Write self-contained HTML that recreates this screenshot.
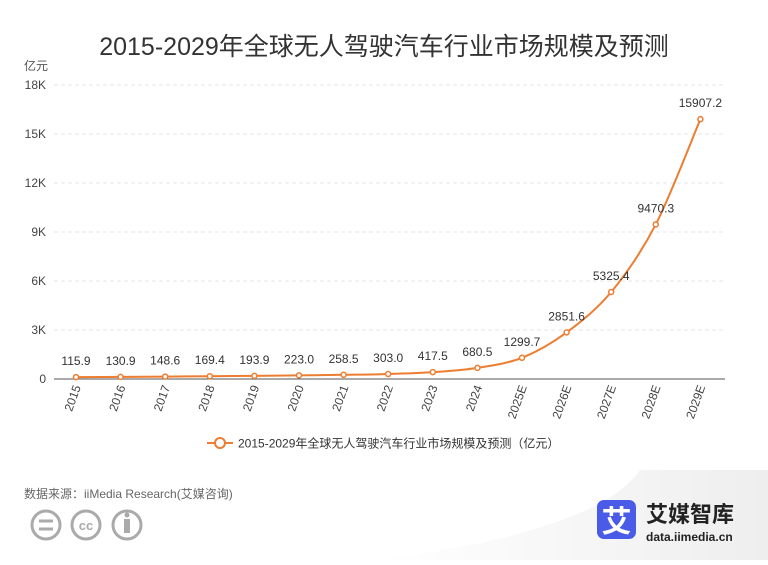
<!DOCTYPE html>
<html><head><meta charset="utf-8"><style>
body{margin:0;width:768px;height:560px;background:#fff;overflow:hidden;font-family:"Liberation Sans","Noto Sans CJK SC",sans-serif;}
</style></head><body>
<svg width="768" height="560" xmlns="http://www.w3.org/2000/svg" style="font-family:'Liberation Sans','Noto Sans CJK SC',sans-serif">
<defs><linearGradient id="bg" x1="0" y1="0" x2="1" y2="0"><stop offset="0" stop-color="#fff"/><stop offset="1" stop-color="#eeeeee"/></linearGradient></defs>
<path d="M380 560 Q600 530 640 470 L768 470 L768 560 Z" fill="url(#bg)"/>
<text x="384" y="55" text-anchor="middle" font-size="25" fill="#333">2015-2029年全球无人驾驶汽车行业市场规模及预测</text>
<text x="24" y="70" font-size="12" fill="#555">亿元</text>
<g id="grid"></g><g id="xl"></g><g id="series"></g>
<g transform="translate(0,443)">
<line x1="207" y1="0" x2="233" y2="0" stroke="#ed7d31" stroke-width="2"/>
<circle cx="220" cy="0" r="5" fill="#fff" stroke="#ed7d31" stroke-width="2"/>
<text x="238" y="4.5" font-size="12" fill="#333">2015-2029年全球无人驾驶汽车行业市场规模及预测（亿元）</text>
</g>
<text x="24" y="498" font-size="12" fill="#666">数据来源：iiMedia Research(艾媒咨询)</text>
<g fill="none" stroke="#aaa" stroke-width="3">
<circle cx="46" cy="525" r="14"/><line x1="39" y1="521" x2="53" y2="521"/><line x1="39" y1="529" x2="53" y2="529"/>
<circle cx="86" cy="525" r="14"/><text x="86" y="530" text-anchor="middle" font-size="13" fill="#aaa" stroke="none" font-weight="bold">cc</text>
<circle cx="127" cy="525" r="14"/><circle cx="127" cy="515" r="2.5" fill="#aaa" stroke="none"/><rect x="124" y="519" width="6" height="14" fill="#aaa" stroke="none"/>
</g>
<g>
<rect x="597" y="500" width="39" height="39" rx="7" fill="#4a5be8"/>
<text x="616.5" y="532" text-anchor="middle" font-size="30" fill="#fff" font-weight="bold">艾</text>
<text x="646" y="522" font-size="22" font-weight="bold" fill="#222">艾媒智库</text>
<text x="646" y="541" font-size="12" font-weight="bold" fill="#222">data.iimedia.cn</text>
</g>
</svg>
<script>
const categories=["2015","2016","2017","2018","2019","2020","2021","2022","2023","2024","2025E","2026E","2027E","2028E","2029E"];
const values=[115.9,130.9,148.6,169.4,193.9,223.0,258.5,303.0,417.5,680.5,1299.7,2851.6,5325.4,9470.3,15907.2];
const labels=["115.9","130.9","148.6","169.4","193.9","223.0","258.5","303.0","417.5","680.5","1299.7","2851.6","5325.4","9470.3","15907.2"];
const yTicks=[0,3000,6000,9000,12000,15000,18000];
const yTickLabels=["0","3K","6K","9K","12K","15K","18K"];
const NS="http://www.w3.org/2000/svg";
const x0=76,dx=44.6,yBase=379,yTop=85,yMax=18000;
const X=i=>x0+i*dx, Y=v=>yBase-(v/yMax)*(yBase-yTop);
function mk(t,a,p){const e=document.createElementNS(NS,t);for(const k in a)e.setAttribute(k,a[k]);p.appendChild(e);return e;}
const grid=document.getElementById('grid');
yTicks.forEach((v,i)=>{
 if(v>0){const l=mk('line',{x1:54,x2:725,y1:Y(v),y2:Y(v),stroke:'#e4e4e4','stroke-dasharray':'4,3'},grid);
 
 }
 const t=mk('text',{x:46,y:Y(v)+4,'text-anchor':'end','font-size':12,fill:'#444'},grid);t.textContent=yTickLabels[i];
 
 
});
const ax=mk('line',{x1:54,x2:725,y1:yBase,y2:yBase,stroke:'#555'},grid);


const xl=document.getElementById('xl');
categories.forEach((c,i)=>{
 const t=mk('text',{x:0,y:0,'text-anchor':'end','font-size':12,fill:'#444',transform:`translate(${X(i)+5},${yBase+8}) rotate(-70)`},xl);t.textContent=c;
 
 
});
const s=document.getElementById('series');
const pts=values.map((v,i)=>[X(i),Y(v)]);
let d=`M${pts[0][0]},${pts[0][1]}`;
for(let i=0;i<pts.length-1;i++){const p0=pts[i-1]||pts[i],p1=pts[i],p2=pts[i+1],p3=pts[i+2]||p2;const k=0.16;
 d+=` C${p1[0]+(p2[0]-p0[0])*k},${p1[1]+(p2[1]-p0[1])*k} ${p2[0]-(p3[0]-p1[0])*k},${p2[1]-(p3[1]-p1[1])*k} ${p2[0]},${p2[1]}`;}
const line=mk('path',{d:d,fill:'none',stroke:'#ed7d31','stroke-width':2},s);


pts.forEach((p,i)=>{
 const c=mk('circle',{cx:p[0],cy:p[1],r:2.5,fill:'#fff',stroke:'#ed7d31','stroke-width':1.5},s);
 
 
 const t=mk('text',{x:p[0],y:p[1]-12,'text-anchor':'middle','font-size':12,fill:'#333'},s);t.textContent=labels[i];
 
 
});
</script>
</body></html>
